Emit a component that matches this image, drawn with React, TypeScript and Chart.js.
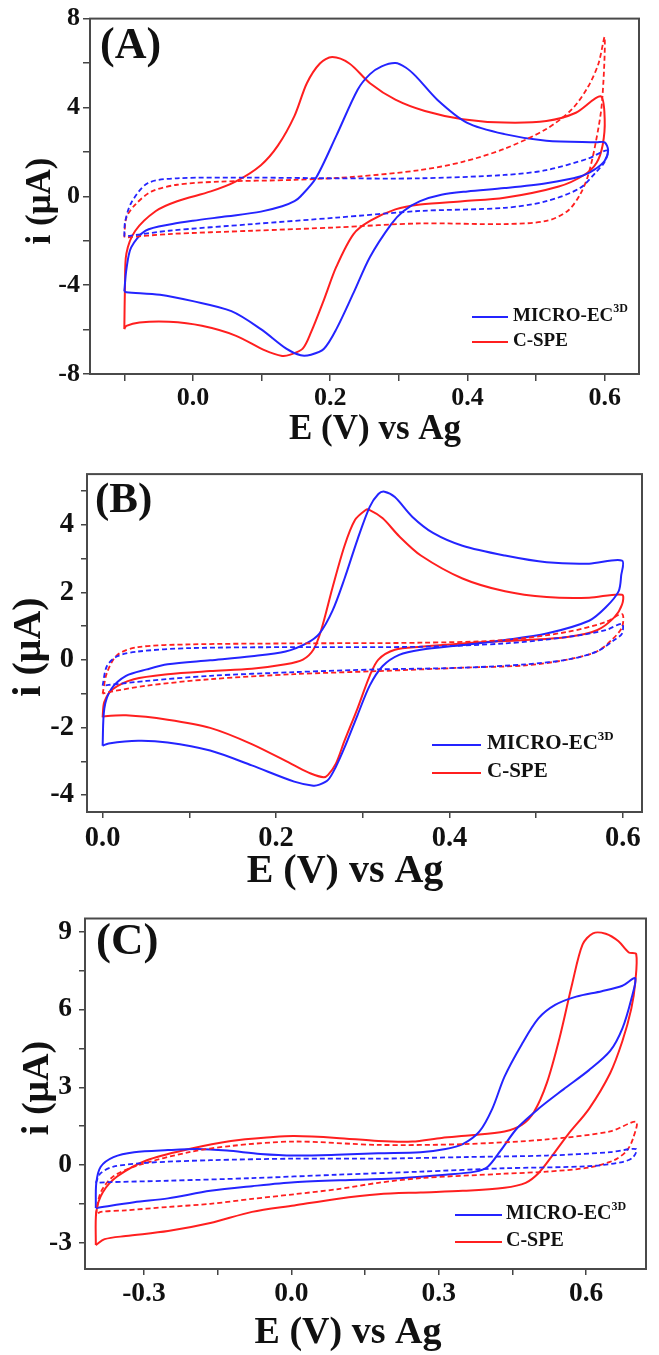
import React, { useEffect, useRef } from 'react';
import { Chart, registerables } from 'chart.js';
Chart.register(...registerables);

type Pt = [number, number];

// ---------- Panel A ----------
const aMicroCV: Pt[] = [
  [-0.1, -4.28], [-0.097, -3.3], [-0.09, -2.3], [-0.069, -1.55], [-0.03, -1.25], [0.0, -1.1], [0.05, -0.9],
  [0.099, -0.69], [0.13, -0.45], [0.148, -0.22], [0.157, 0], [0.179, 0.81], [0.209, 2.73], [0.24, 4.8],
  [0.258, 5.5], [0.275, 5.85], [0.295, 6.0], [0.31, 5.8], [0.325, 5.4], [0.356, 4.35], [0.399, 3.32],
  [0.454, 2.8], [0.515, 2.5], [0.588, 2.43], [0.6, 2.43], [0.605, 2.07],
  [0.6, 1.6], [0.585, 1.2], [0.564, 0.89], [0.515, 0.59], [0.454, 0.37], [0.4, 0.22], [0.362, 0.07],
  [0.331, -0.22], [0.307, -0.66], [0.289, -1.25], [0.258, -2.73], [0.234, -4.35], [0.209, -5.98],
  [0.191, -6.86], [0.172, -7.13], [0.157, -7.16], [0.136, -6.86], [0.099, -5.98], [0.056, -5.17],
  [0.0, -4.72], [-0.048, -4.43], [-0.097, -4.32], [-0.1, -4.28],
];
const aSpeCV: Pt[] = [
  [-0.1, -5.98], [-0.099, -4.06], [-0.097, -2.58], [-0.084, -1.55], [-0.054, -0.66], [-0.023, -0.22],
  [0.026, 0.22], [0.062, 0.66], [0.099, 1.4], [0.124, 2.29], [0.148, 3.62], [0.166, 5.09], [0.185, 5.98],
  [0.203, 6.27], [0.228, 5.98], [0.258, 5.09], [0.295, 4.35], [0.338, 3.84], [0.393, 3.47], [0.454, 3.32],
  [0.515, 3.39], [0.558, 3.76], [0.594, 4.5], [0.6, 3.47],
  [0.597, 2.3], [0.588, 1.5], [0.57, 0.96], [0.533, 0.44], [0.454, -0.07], [0.393, -0.22], [0.331, -0.37],
  [0.295, -0.59], [0.258, -1.11], [0.234, -1.7], [0.209, -3.17], [0.191, -4.65], [0.172, -6.13],
  [0.16, -6.86], [0.142, -7.13], [0.13, -7.19], [0.105, -6.94], [0.062, -6.27], [0.013, -5.83],
  [-0.035, -5.65], [-0.078, -5.68], [-0.097, -5.83], [-0.1, -5.98],
];
const aMicroBlank: Pt[] = [
  [-0.1, -1.8], [-0.099, -1.18], [-0.09, -0.3], [-0.066, 0.59], [-0.023, 0.81], [0.087, 0.84], [0.209, 0.81],
  [0.33, 0.81], [0.454, 0.96], [0.515, 1.18], [0.576, 1.7], [0.604, 2.07],
  [0.6, 1.55], [0.588, 1.11], [0.564, 0.37], [0.515, -0.22], [0.454, -0.52], [0.331, -0.66], [0.209, -0.96],
  [0.087, -1.25], [-0.035, -1.55], [-0.09, -1.77], [-0.1, -1.8],
];
const aSpeBlank: Pt[] = [
  [-0.1, -1.85], [-0.097, -0.96], [-0.084, -0.37], [-0.06, 0.22], [-0.023, 0.52], [0.038, 0.66], [0.148, 0.74],
  [0.24, 0.89], [0.331, 1.18], [0.393, 1.55], [0.454, 2.14], [0.515, 3.03], [0.552, 3.91], [0.576, 4.94],
  [0.591, 5.98], [0.6, 7.16],
  [0.596, 4.2], [0.587, 2.43], [0.576, 0.96], [0.564, 0.07], [0.546, -0.66], [0.515, -1.11], [0.454, -1.25],
  [0.331, -1.22], [0.209, -1.4], [0.087, -1.55], [-0.035, -1.7], [-0.097, -1.85],
];
const aXTicks = [-0.1, 0, 0.1, 0.2, 0.3, 0.4, 0.5, 0.6];
const aXLabels = ['', '0.0', '', '0.2', '', '0.4', '', '0.6'];
const aYTicks = [-8, -6, -4, -2, 0, 2, 4, 6, 8];
const aYLabels = ['-8', '', '-4', '', '0', '', '4', '', '8'];

// ---------- Panel B ----------
const bMicroCV: Pt[] = [
  [0.0, -2.54], [0.002, -1.43], [0.01, -0.86], [0.027, -0.47], [0.051, -0.28], [0.075, -0.13], [0.124, -0.01],
  [0.172, 0.11], [0.211, 0.25], [0.235, 0.49], [0.25, 0.78], [0.265, 1.45], [0.279, 2.41], [0.294, 3.57],
  [0.308, 4.53], [0.318, 4.91], [0.325, 4.98], [0.337, 4.82], [0.357, 4.24], [0.381, 3.76], [0.415, 3.38],
  [0.464, 3.09], [0.512, 2.89], [0.561, 2.85], [0.599, 2.94],
  [0.598, 2.5], [0.595, 2.03], [0.58, 1.55], [0.561, 1.16], [0.512, 0.78], [0.464, 0.59], [0.415, 0.44],
  [0.367, 0.3], [0.342, 0.15], [0.323, -0.18], [0.308, -0.76], [0.294, -1.63], [0.279, -2.59],
  [0.269, -3.16], [0.26, -3.55], [0.25, -3.69], [0.243, -3.72], [0.221, -3.6], [0.172, -3.12],
  [0.124, -2.68], [0.075, -2.44], [0.041, -2.39], [0.007, -2.47], [0.0, -2.54],
];
const bSpeCV: Pt[] = [
  [0.0, -1.7], [0.002, -1.24], [0.012, -0.86], [0.036, -0.57], [0.075, -0.42], [0.124, -0.33], [0.172, -0.26],
  [0.211, -0.13], [0.231, 0.01], [0.243, 0.3], [0.252, 0.88], [0.265, 2.13], [0.279, 3.38], [0.291, 4.14],
  [0.303, 4.43], [0.307, 4.45], [0.323, 4.19], [0.342, 3.66], [0.367, 3.09], [0.415, 2.41], [0.464, 2.03],
  [0.512, 1.86], [0.561, 1.84], [0.599, 1.93],
  [0.599, 1.64], [0.59, 1.26], [0.57, 0.88], [0.536, 0.68], [0.488, 0.59], [0.415, 0.49], [0.367, 0.39],
  [0.337, 0.3], [0.318, 0.01], [0.308, -0.47], [0.294, -1.43], [0.279, -2.39], [0.269, -3.07],
  [0.26, -3.4], [0.255, -3.47], [0.24, -3.36], [0.221, -3.12], [0.172, -2.49], [0.124, -2.01],
  [0.075, -1.77], [0.027, -1.64], [0.002, -1.67], [0.0, -1.7],
];
const bMicroBlank: Pt[] = [
  [0.0, -0.76], [0.005, -0.18], [0.017, 0.11], [0.041, 0.25], [0.1, 0.35], [0.221, 0.38], [0.367, 0.39],
  [0.464, 0.49], [0.536, 0.68], [0.58, 0.88], [0.599, 1.07],
  [0.599, 0.78], [0.59, 0.59], [0.57, 0.25], [0.536, 0.01], [0.488, -0.13], [0.415, -0.23], [0.318, -0.28],
  [0.221, -0.36], [0.124, -0.47], [0.051, -0.62], [0.007, -0.74], [0.0, -0.76],
];
const bSpeBlank: Pt[] = [
  [0.0, -1.0], [0.005, -0.38], [0.017, 0.15], [0.041, 0.38], [0.1, 0.46], [0.221, 0.49], [0.367, 0.51],
  [0.464, 0.59], [0.536, 0.83], [0.58, 1.12], [0.599, 1.36],
  [0.599, 0.97], [0.587, 0.59], [0.57, 0.25], [0.536, 0.01], [0.488, -0.16], [0.415, -0.23], [0.318, -0.33],
  [0.221, -0.42], [0.124, -0.57], [0.051, -0.76], [0.007, -0.95], [0.0, -1.0],
];
const bXTicks = [0, 0.1, 0.2, 0.3, 0.4, 0.5, 0.6];
const bXLabels = ['0.0', '', '0.2', '', '0.4', '', '0.6'];
const bYTicks = [-4, -3, -2, -1, 0, 1, 2, 3, 4, 5];
const bYLabels = ['-4', '', '-2', '', '0', '', '2', '', '4', ''];

// ---------- Panel C ----------
const cMicroCV: Pt[] = [
  [-0.398, -1.65], [-0.397, -0.68], [-0.388, -0.06], [-0.362, 0.31], [-0.32, 0.5], [-0.251, 0.58],
  [-0.191, 0.62], [-0.131, 0.56], [-0.063, 0.43], [0.006, 0.37], [0.092, 0.4], [0.177, 0.46], [0.263, 0.5],
  [0.314, 0.62], [0.349, 0.81], [0.383, 1.3], [0.409, 2.17], [0.434, 3.41], [0.469, 4.65], [0.503, 5.65],
  [0.537, 6.17], [0.58, 6.49], [0.632, 6.7], [0.674, 6.91], [0.7, 7.2],
  [0.692, 6.39], [0.674, 5.27], [0.649, 4.4], [0.606, 3.66], [0.554, 2.92], [0.503, 2.17], [0.46, 1.43],
  [0.426, 0.56], [0.4, -0.06], [0.374, -0.25], [0.314, -0.37], [0.22, -0.5], [0.135, -0.56], [0.006, -0.66],
  [-0.08, -0.81], [-0.165, -0.99], [-0.251, -1.28], [-0.32, -1.43], [-0.398, -1.65],
];
const cSpeCV: Pt[] = [
  [-0.398, -3.08], [-0.397, -1.8], [-0.384, -1.05], [-0.354, -0.43], [-0.294, 0.19], [-0.208, 0.62],
  [-0.123, 0.93], [-0.037, 1.08], [0.006, 1.12], [0.092, 1.05], [0.177, 0.93], [0.246, 0.91], [0.306, 1.05],
  [0.366, 1.15], [0.434, 1.3], [0.469, 1.55], [0.494, 2.05], [0.52, 3.16], [0.546, 4.9], [0.572, 7.01],
  [0.593, 8.5], [0.614, 8.93], [0.64, 8.91], [0.666, 8.62], [0.687, 8.19], [0.702, 8.13],
  [0.7, 7.01], [0.692, 6.02], [0.674, 4.78], [0.649, 3.54], [0.606, 2.17], [0.563, 1.18], [0.529, 0.31],
  [0.503, -0.31], [0.477, -0.68], [0.434, -0.87], [0.349, -0.99], [0.263, -1.05], [0.177, -1.12],
  [0.092, -1.3], [0.006, -1.55], [-0.08, -1.8], [-0.165, -2.23], [-0.251, -2.54], [-0.337, -2.73],
  [-0.38, -2.85], [-0.398, -3.08],
];
const cMicroBlank: Pt[] = [
  [-0.398, -0.68], [-0.388, -0.31], [-0.362, -0.06], [-0.294, 0.09], [-0.165, 0.19], [0.006, 0.25],
  [0.177, 0.25], [0.349, 0.31], [0.52, 0.37], [0.649, 0.5], [0.702, 0.62],
  [0.696, 0.31], [0.674, 0.12], [0.606, -0.04], [0.434, -0.12], [0.263, -0.25], [0.092, -0.37],
  [-0.08, -0.5], [-0.251, -0.6], [-0.38, -0.66], [-0.398, -0.68],
];
const cSpeBlank: Pt[] = [
  [-0.398, -1.92], [-0.388, -1.05], [-0.362, -0.43], [-0.311, 0], [-0.208, 0.5], [-0.123, 0.74],
  [0.006, 0.91], [0.177, 0.78], [0.349, 0.81], [0.52, 0.99], [0.649, 1.3], [0.702, 1.67],
  [0.696, 1.05], [0.683, 0.56], [0.657, 0.19], [0.606, -0.09], [0.52, -0.25], [0.434, -0.33], [0.263, -0.5],
  [0.177, -0.68], [0.092, -0.93], [0.006, -1.12], [-0.08, -1.3], [-0.165, -1.49], [-0.251, -1.61],
  [-0.337, -1.74], [-0.388, -1.8], [-0.398, -1.92],
];
const cXTicks = [-0.3, -0.15, 0, 0.15, 0.3, 0.45, 0.6];
const cXLabels = ['-0.3', '', '0.0', '', '0.3', '', '0.6'];
const cYTicks = [-3, -1.5, 0, 1.5, 3, 4.5, 6, 7.5, 9];
const cYLabels = ['-3', '', '0', '', '3', '', '6', '', '9'];

// ---------- Shared text ----------
const seriesNames = ['MICRO-EC', 'C-SPE'];
const seriesSup = '3D';
const panelTags = ['(A)', '(B)', '(C)'];
const xTitle = 'E (V) vs Ag';
const yTitle = 'i (\u03bcA)';

const BLUE = '#2424ff';
const RED = '#ff1f1f';
const SERIF = '"Liberation Serif", "Times New Roman", serif';

interface PanelCfg {
  top: number; height: number;
  area: { l: number; t: number; r: number; b: number };
  xMin: number; xMax: number; yMin: number; yMax: number;
  xTicks: number[]; xLabels: string[]; yTicks: number[]; yLabels: string[];
  tickFont: number; tickLen: number; xPad: number; yPad: number;
  titleFont: number; xTitlePos: [number, number]; yTitlePos: [number, number];
  tag: string; tagPos: [number, number]; tagFont: number;
  legend: { x1: number; x2: number; tx: number; y1: number; y2: number; font: number; sup: number };
  micro: Pt[]; spe: Pt[]; microBlank: Pt[]; speBlank: Pt[];
}

const panels: PanelCfg[] = [
  {
    top: 0, height: 450, area: { l: 90, t: 15, r: 639, b: 374 },
    xMin: -0.15, xMax: 0.65, yMin: -8, yMax: 8,
    xTicks: aXTicks, xLabels: aXLabels, yTicks: aYTicks, yLabels: aYLabels,
    tickFont: 26, tickLen: 7, xPad: 2, yPad: 3,
    titleFont: 35, xTitlePos: [375, 430], yTitlePos: [41, 201],
    tag: panelTags[0], tagPos: [100, 47], tagFont: 44,
    legend: { x1: 472, x2: 508, tx: 513, y1: 317, y2: 342, font: 19, sup: 12 },
    micro: aMicroCV, spe: aSpeCV, microBlank: aMicroBlank, speBlank: aSpeBlank,
  },
  {
    top: 450, height: 445, area: { l: 87, t: 16, r: 642, b: 362 },
    xMin: -0.018, xMax: 0.622, yMin: -4.5, yMax: 5.5,
    xTicks: bXTicks, xLabels: bXLabels, yTicks: bYTicks, yLabels: bYLabels,
    tickFont: 28.5, tickLen: 6, xPad: 4, yPad: 7,
    titleFont: 40, xTitlePos: [345, 422], yTitlePos: [30, 197],
    tag: panelTags[1], tagPos: [95, 51], tagFont: 43,
    legend: { x1: 432, x2: 481, tx: 487, y1: 295, y2: 323, font: 21, sup: 13 },
    micro: bMicroCV, spe: bSpeCV, microBlank: bMicroBlank, speBlank: bSpeBlank,
  },
  {
    top: 895, height: 460, area: { l: 85, t: 12, r: 646, b: 374 },
    xMin: -0.42, xMax: 0.722, yMin: -4, yMax: 9.5,
    xTicks: cXTicks, xLabels: cXLabels, yTicks: cYTicks, yLabels: cYLabels,
    tickFont: 27.5, tickLen: 6, xPad: 2.5, yPad: 7,
    titleFont: 38, xTitlePos: [348, 438], yTitlePos: [38, 193],
    tag: panelTags[2], tagPos: [96, 47], tagFont: 45,
    legend: { x1: 455, x2: 502, tx: 506, y1: 320, y2: 347, font: 20, sup: 12 },
    micro: cMicroCV, spe: cSpeCV, microBlank: cMicroBlank, speBlank: cSpeBlank,
  },
];

const toXY = (pts: Pt[]) => pts.map(([x, y]) => ({ x, y }));

function Panel({ cfg }: { cfg: PanelCfg }) {
  const ref = useRef<HTMLCanvasElement>(null);
  useEffect(() => {
    const canvas = ref.current!;
    const deco = {
      id: 'deco',
      afterDraw(chart: any) {
        const ctx = chart.ctx as CanvasRenderingContext2D;
        const ca = chart.chartArea;
        ctx.save();
        ctx.strokeStyle = '#4a4a4a';
        ctx.lineWidth = 2;
        ctx.strokeRect(ca.left, ca.top, ca.right - ca.left, ca.bottom - ca.top);
        ctx.fillStyle = '#111';
        ctx.font = `bold ${cfg.tagFont}px ${SERIF}`;
        ctx.textAlign = 'left';
        ctx.textBaseline = 'middle';
        ctx.fillText(cfg.tag, cfg.tagPos[0], cfg.tagPos[1]);
        ctx.font = `bold ${cfg.titleFont}px ${SERIF}`;
        ctx.textAlign = 'center';
        ctx.fillText(xTitle, cfg.xTitlePos[0], cfg.xTitlePos[1]);
        ctx.save();
        ctx.translate(cfg.yTitlePos[0], cfg.yTitlePos[1]);
        ctx.rotate(-Math.PI / 2);
        ctx.fillText(yTitle, 0, 0);
        ctx.restore();
        const lg = cfg.legend;
        const rows: [string, string, number, boolean][] = [
          [seriesNames[0], BLUE, lg.y1, true],
          [seriesNames[1], RED, lg.y2, false],
        ];
        rows.forEach(([name, color, y, sup]) => {
          ctx.strokeStyle = color;
          ctx.lineWidth = 2;
          ctx.beginPath();
          ctx.moveTo(lg.x1, y);
          ctx.lineTo(lg.x2, y);
          ctx.stroke();
          ctx.fillStyle = '#111';
          ctx.font = `bold ${lg.font}px ${SERIF}`;
          ctx.textAlign = 'left';
          ctx.textBaseline = 'middle';
          ctx.fillText(name, lg.tx, y - 1);
          if (sup) {
            const w = ctx.measureText(name).width;
            ctx.font = `bold ${lg.sup}px ${SERIF}`;
            ctx.fillText(seriesSup, lg.tx + w, y - lg.font * 0.42);
          }
        });
        ctx.restore();
      },
    };
    const ds = (pts: Pt[], color: string, dashed: boolean) => ({
      data: toXY(pts),
      showLine: true,
      pointRadius: 0,
      borderColor: color,
      backgroundColor: color,
      borderWidth: dashed ? 1.8 : 2,
      borderDash: dashed ? [5, 3] : [],
      tension: 0.3,
      fill: false,
    });
    const tickFont = { family: SERIF, size: cfg.tickFont, weight: 'bold' as const };
    const chart = new Chart(canvas, {
      type: 'scatter',
      data: {
        datasets: [
          ds(cfg.microBlank, BLUE, true),
          ds(cfg.speBlank, RED, true),
          ds(cfg.micro, BLUE, false),
          ds(cfg.spe, RED, false),
        ],
      },
      options: {
        animation: false,
        responsive: false,
        devicePixelRatio: 1,
        layout: { padding: { top: cfg.area.t, right: 659 - cfg.area.r, left: 0, bottom: 0 } },
        plugins: { legend: { display: false }, tooltip: { enabled: false } },
        scales: {
          x: {
            type: 'linear',
            min: cfg.xMin,
            max: cfg.xMax,
            afterBuildTicks: (s: any) => { s.ticks = cfg.xTicks.map((v) => ({ value: v })); },
            afterFit: (s: any) => { s.height = cfg.height - cfg.area.b; },
            grid: { drawOnChartArea: false, drawTicks: true, tickLength: cfg.tickLen, color: '#444', lineWidth: 1.5 },
            border: { display: false },
            ticks: {
              autoSkip: false, maxRotation: 0, padding: cfg.xPad, color: '#111', font: tickFont,
              callback: (_v: any, i: number) => cfg.xLabels[i],
            },
          },
          y: {
            type: 'linear',
            min: cfg.yMin,
            max: cfg.yMax,
            afterBuildTicks: (s: any) => { s.ticks = cfg.yTicks.map((v) => ({ value: v })); },
            afterFit: (s: any) => { s.width = cfg.area.l; },
            grid: { drawOnChartArea: false, drawTicks: true, tickLength: cfg.tickLen, color: '#444', lineWidth: 1.5 },
            border: { display: false },
            ticks: {
              autoSkip: false, padding: cfg.yPad, color: '#111', font: tickFont,
              callback: (_v: any, i: number) => cfg.yLabels[i],
            },
          },
        },
      },
      plugins: [deco],
    } as any);
    return () => chart.destroy();
  }, [cfg]);
  return (
    <canvas
      ref={ref}
      width={659}
      height={cfg.height}
      style={{ position: 'absolute', left: 0, top: cfg.top, width: 659, height: cfg.height, display: 'block' }}
    />
  );
}

export default function App() {
  return (
    <div style={{ position: 'absolute', left: 0, top: 0, width: 659, height: 1355, background: '#ffffff' }}>
      {panels.map((p, i) => (
        <Panel key={i} cfg={p} />
      ))}
    </div>
  );
}
